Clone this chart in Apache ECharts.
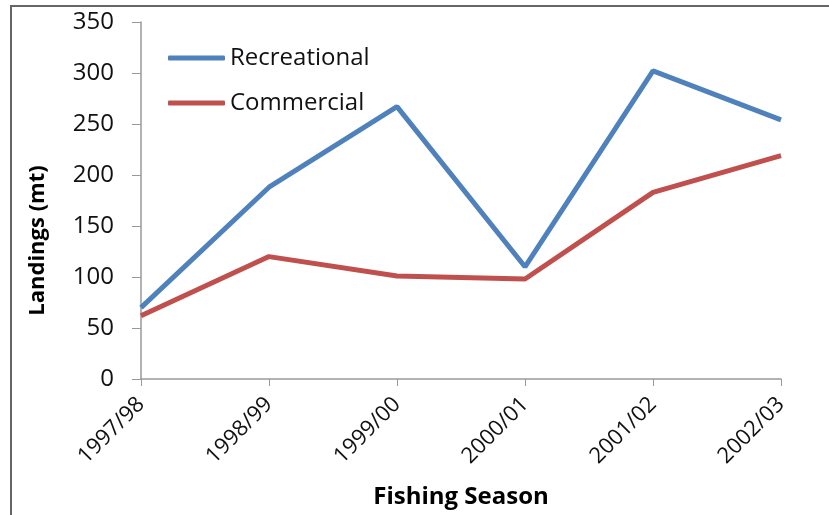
<!DOCTYPE html>
<html>
<head>
<meta charset="utf-8">
<script src="https://cdn.jsdelivr.net/npm/echarts@6/dist/echarts.min.js"></script>
<style>
  html, body { margin: 0; padding: 0; background: #fff; }
  #chart { width: 829px; height: 515px; }
</style>
</head>
<body>
<div id="chart"></div>
<script>
// data
var seasons = ["1997/98", "1998/99", "1999/00", "2000/01", "2001/02", "2002/03"];
var recreational = [70, 188, 267, 110, 302, 254];
var commercial = [62, 120, 101, 98, 183, 219];

var font = "'Open Sans', sans-serif";

var chart = echarts.init(document.getElementById("chart"));
chart.setOption({
    animation: false,
    graphic: [
        {
            // frame: only the left and top edges show
            type: "polyline",
            shape: { points: [[11, 600], [11, 6], [900, 6]] },
            style: { stroke: "#666", lineWidth: 2, fill: null }
        }
    ],
    grid: { left: 141, right: 48, top: 22, bottom: 136 },
    legend: {
        left: 163,
        top: 41,
        orient: "vertical",
        itemGap: 21,
        itemWidth: 57,
        itemHeight: 5,
        icon: "roundRect",
        textStyle: { fontFamily: font, fontSize: 24, color: "#111" },
        data: ["Recreational", "Commercial"]
    },
    xAxis: {
        type: "category",
        boundaryGap: false,
        data: seasons,
        name: "Fishing Season",
        nameLocation: "middle",
        nameGap: 106,
        nameTextStyle: { fontFamily: font, fontSize: 24, fontWeight: "bold", color: "#000" },
        axisLine: { lineStyle: { color: "#999", width: 1.5 } },
        axisTick: { alignWithLabel: true, length: 7, lineStyle: { color: "#999" } },
        axisLabel: { rotate: 45, fontFamily: font, fontSize: 22, color: "#111", margin: 22 }
    },
    yAxis: {
        type: "value",
        min: 0,
        max: 350,
        interval: 50,
        name: "Landings (mt)",
        nameLocation: "middle",
        nameGap: 92,
        nameTextStyle: { fontFamily: font, fontSize: 22, fontWeight: "bold", color: "#000", padding: [0, 80, 0, 0] },
        axisLine: { show: true, lineStyle: { color: "#999", width: 1.5 } },
        axisTick: { show: true, length: 9, lineStyle: { color: "#999" } },
        axisLabel: { fontFamily: font, fontSize: 24, color: "#111", margin: 27 },
        splitLine: { show: false }
    },
    series: [
        {
            name: "Recreational",
            type: "line",
            data: recreational,
            symbol: "none",
            color: "#4F81BD",
            lineStyle: { width: 5, color: "#4F81BD" }
        },
        {
            name: "Commercial",
            type: "line",
            data: commercial,
            symbol: "none",
            color: "#C0504D",
            lineStyle: { width: 5, color: "#C0504D" }
        }
    ]
});
</script>
</body>
</html>
